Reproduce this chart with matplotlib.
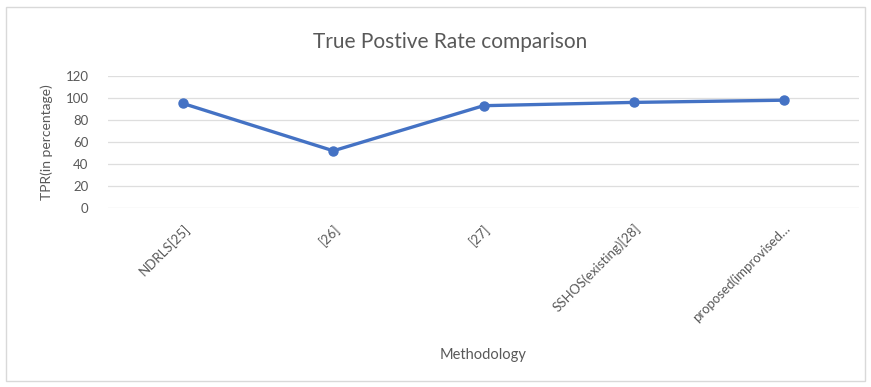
import matplotlib
matplotlib.use("Agg")
import matplotlib.pyplot as plt
from matplotlib.patches import Rectangle

methods = ["NDRLS[25]", "[26]", "[27]", "SSHOS(existing)[28]", "proposed(improvised…"]
tpr = [95, 52, 93, 96, 98]
y_ticks = [0, 20, 40, 60, 80, 100, 120]

plt.rcParams["font.family"] = ["Lato", "DejaVu Sans"]

fig = plt.figure(figsize=(8.71, 3.87), dpi=100)
ax = fig.add_axes([108 / 871, 1 - 208 / 387, (859 - 108) / 871, (208 - 76) / 387])

# outer chart frame
fig.patches.append(Rectangle((6 / 871, 1 - 381 / 387), (865 - 6) / 871, (381 - 7) / 387,
                             transform=fig.transFigure, fill=False,
                             edgecolor="#d9d9d9", linewidth=1.0))

x = list(range(len(methods)))
ax.plot(x, tpr, color="#4472c4", linewidth=2.4, marker="o", markersize=6.5,
        markerfacecolor="#4472c4", markeredgecolor="#4472c4")

ax.set_xlim(-0.5, len(methods) - 0.5)
ax.set_ylim(0, 120)
ax.set_yticks(y_ticks)
ax.set_yticklabels([str(v) for v in y_ticks])
ax.set_xticks(x)
ax.set_xticklabels(methods, rotation=45, ha="right", rotation_mode="anchor")

ax.grid(axis="y", color="#dedede", linewidth=0.9)
ax.set_axisbelow(True)
for s in ax.spines.values():
    s.set_visible(False)
ax.tick_params(axis="both", length=0, colors="#595959", labelsize=9.5)
ax.tick_params(axis="y", pad=14)
ax.tick_params(axis="x", pad=10)

ax.set_ylabel("TPR(in percentage)", color="#595959", fontsize=10, labelpad=4)
ax.yaxis.set_label_coords(-0.073, 0.5)
fig.text(483 / 871, 1 - 355 / 387, "Methodology", color="#595959", fontsize=10.5,
         ha="center", va="center")
fig.text(450 / 871, 1 - 42 / 387, "True Postive Rate comparison", color="#595959",
         fontsize=15, ha="center", va="center")

fig.savefig("out.png", dpi=100)
